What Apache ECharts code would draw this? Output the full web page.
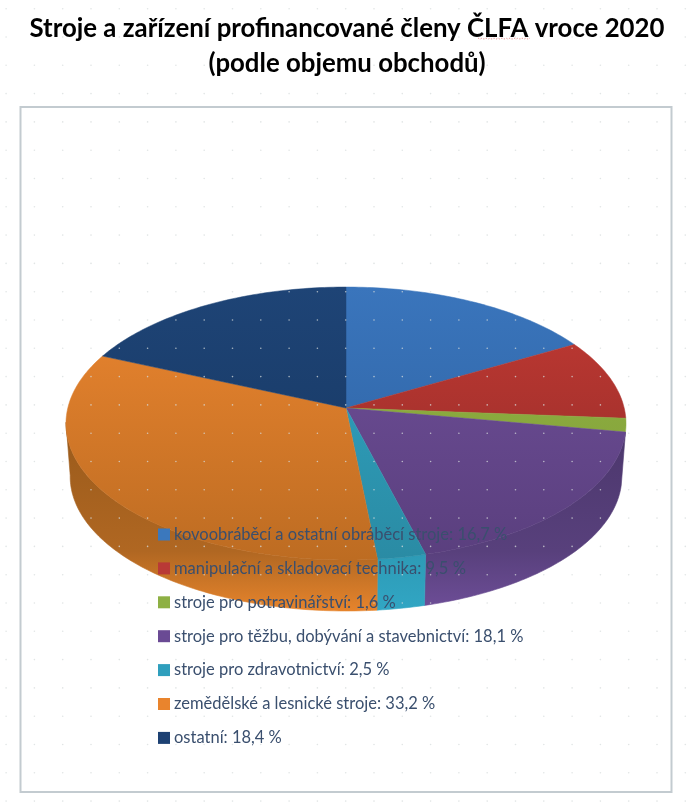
<!DOCTYPE html>
<html><head><meta charset="utf-8">
<style>html,body{margin:0;padding:0;background:#fff}#c{width:697px;height:802px}</style>
<script src="https://cdn.jsdelivr.net/npm/echarts@6/dist/echarts.min.js"></script>
</head><body><div id="c"></div>
<script>
const titleLines = ["Stroje a zařízení profinancované členy ČLFA vroce 2020", "(podle objemu obchodů)"];
const categories = ["kovoobráběcí a ostatní obráběcí stroje", "manipulační a skladovací technika", "stroje pro potravinářství", "stroje pro těžbu, dobývání a stavebnictví", "stroje pro zdravotnictví", "zemědělské a lesnické stroje", "ostatní"];
const values = [16.7, 9.5, 1.6, 18.1, 2.5, 33.2, 18.4];
const valueLabels = ["16,7", "9,5", "1,6", "18,1", "2,5", "33,2", "18,4"];
const legendColors = ["#3b78bd", "#b93a36", "#8eb044", "#6a4a94", "#2f9fbd", "#e9842d", "#1d4173"];
const topGradients = [["#3a75bc","#2c609f"],["#c33a33","#8e2a28"],["#93b541","#7f9c3a"],["#70509a","#5a3f7e"],["#30a6c4","#2a8ba4"],["#ec8630","#bd6c22"],["#1e4476","#163660"]];
const sideGradients = [["#2c609f","#2c609f","#3a75bc"],["#8e2a28","#8e2a28","#c33a33"],["#7f9c3a","#7f9c3a","#93b541"],["#4d386e","#58407c","#6e4e98"],["#2b93ad","#2d9ab5","#31a6c4"],["#9c5c1c","#b06722","#e6842c"],["#163660","#163660","#1e4476"]];

const geo = {cx:346, cy:408, a:134.7, b:278.2, k:-0.1136, depth:53.3, shrink:0.985, top:287, bottom:560, sideTop:440, sideBottom:611, visFrom:100.1, visTo:264};
function rim(deg, lower){
  const t = deg*Math.PI/180, u = Math.sin(t), v = -Math.cos(t), w = 1+geo.k*v, s = lower?geo.shrink:1;
  return [geo.cx + s*geo.b*u/w, geo.cy + (lower?geo.depth:0) + s*geo.a*v/w];
}
function arc(from, to, lower){
  const pts = [], n = Math.max(2, Math.ceil(Math.abs(to-from)));
  for(let i=0;i<=n;i++) pts.push(rim(from+(to-from)*i/n, lower));
  return pts;
}
const total = values.reduce((p,c)=>p+c,0);
const starts = []; let acc = 0;
values.forEach(v=>{starts.push(acc/total*360); acc+=v;});
function grad(c, y0, y1){
  return {type:'linear', global:true, x:0, y:y0, x2:0, y2:y1, colorStops:c.map((col,j)=>({offset:c.length===3?[0,0.65,1][j]:j,color:col}))};
}
const series = categories.map((name,i)=>({
  type:'custom', name:name+": "+valueLabels[i]+" %", coordinateSystem:'none', data:[[values[i]]],
  itemStyle:{color:legendColors[i]}, animation:false, silent:true,
  renderItem(){
    const a0 = starts[i], a1 = a0 + values[i]/total*360, children = [];
    const s = Math.max(a0, geo.visFrom), e = Math.min(a1, geo.visTo);
    if(e > s){
      const f = grad(sideGradients[i], geo.sideTop, geo.sideBottom);
      children.push({type:'polygon', z2:10+i, shape:{points:arc(s,e,false).concat(arc(e,s,true))},
        style:{fill:f, stroke:f, lineWidth:0.6}});
    }
    const t = grad(topGradients[i], geo.top, geo.bottom);
    children.push({type:'polygon', z2:50+i, shape:{points:[[geo.cx,geo.cy]].concat(arc(a0,a1,false))},
      style:{fill:t, stroke:t, lineWidth:0.5}});
    return {type:'group', children};
  }
}));
const dots = [];
for(let x=6.1;x<697;x+=28.3) for(let y=8.7;y<802;y+=28.3)
  dots.push({type:'circle', z:3, silent:true, shape:{cx:x,cy:y,r:0.8}, style:{fill:'rgba(215,220,220,0.75)'}});
const squiggle = [];
for(let x=478,j=0;x<=530;x+=2,j++) squiggle.push([x, 38+(j%2?1.2:0)]);
const chart = echarts.init(document.getElementById('c'), null, {renderer:'canvas'});
chart.setOption({
  animation:false, backgroundColor:'#ffffff',
  title:{text:titleLines.join("\n"), left:342, top:6, textAlign:'center',
    textStyle:{fontFamily:'Lato', fontWeight:'bold', fontSize:25.8, lineHeight:35, color:'#000'}},
  legend:{orient:'vertical', left:153, top:521, itemWidth:12, itemHeight:12, itemGap:16.9, icon:'rect', selectedMode:false,
    textStyle:{fontFamily:'Lato', fontSize:16.5, color:'#3a4f6e', padding:[0,0,0,-1]}, z:4},
  graphic:{elements:[
    {type:'rect', z:0, silent:true, shape:{x:20.5,y:107,width:651,height:685}, style:{fill:'#fff',stroke:'#c3cbd0',lineWidth:2}},
    {type:'polyline', z:6, silent:true, shape:{points:squiggle}, style:{fill:null,stroke:'rgba(217,83,79,0.75)',lineWidth:0.8,lineDash:[1.5,1.5]}}
  ].concat(dots)},
  series
});
</script></body></html>
